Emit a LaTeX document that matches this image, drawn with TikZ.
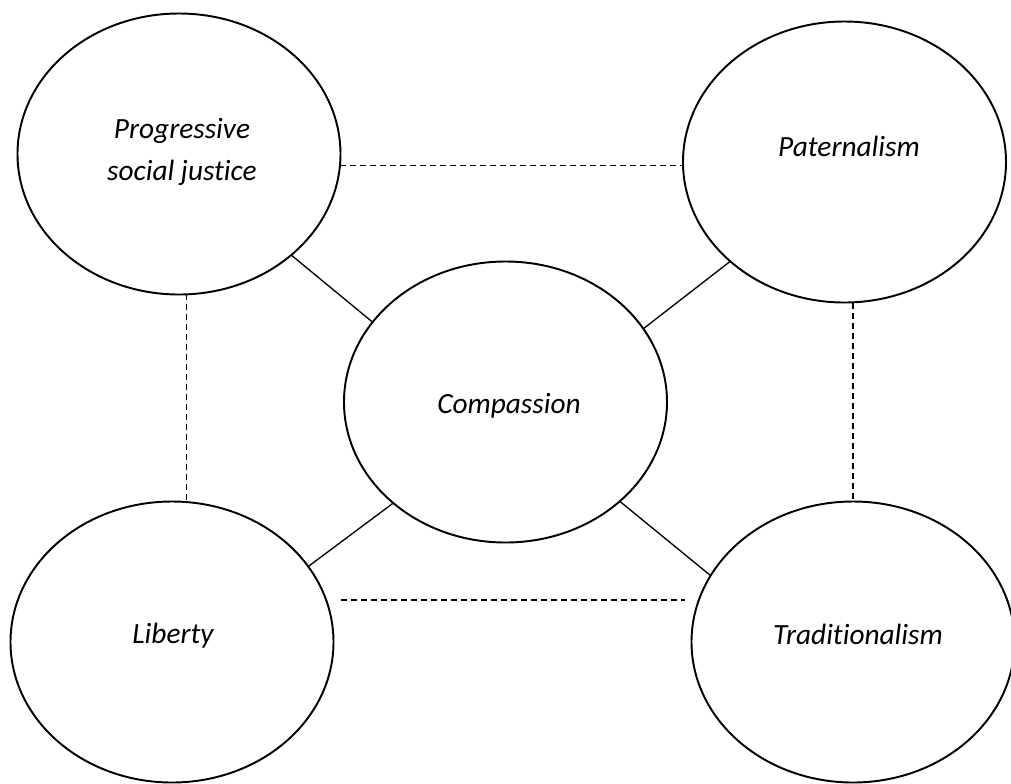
\documentclass[tikz,border=0pt]{standalone}
\usepackage{fontspec}
\setmainfont{Carlito}[Ligatures={NoCommon}]
\usetikzlibrary{shapes.geometric}
\begin{document}
\begin{tikzpicture}[x=0.75pt,y=-0.75pt,
  oval/.style={draw, ellipse, line width=1.45pt, minimum width=242.25pt, minimum height=210.75pt, inner sep=0pt, outer sep=0pt},
  txt/.style={font=\fontsize{22}{26}\selectfont\itshape, inner sep=0pt, anchor=base},
  solidlink/.style={line width=1pt},
  dashlink/.style={line width=1pt, dash pattern=on 4.5pt off 3pt}]
\useasboundingbox (0,0) rectangle (1011,783);
% ellipses
\node[oval] (psj) at (179,154) {};
\node[oval] (pat) at (844.5,162) {};
\node[oval] (com) at (505.5,402) {};
\node[oval] (lib) at (172,642) {};
\node[oval] (tra) at (853,642) {};
% labels
\node[txt] (t1) at (182,138) {Progressive};
\node[txt] (t2) at (182,180) {social justice};
\node[txt] (t3) at (849,156) {Paternalism};
\node[txt] (t4) at (509,413) {Compassion};
\node[txt] (t5) at (173,643) {Liberty};
\node[txt] (t6) at (858,644) {Traditionalism};
% solid connectors
\draw[solidlink] (psj.-42.6) -- (com.149);
\draw[solidlink] (pat.-139.6) -- (com.28.8);
\draw[solidlink] (lib.29) -- (com.-138.3);
\draw[solidlink] (tra.155.6) -- (com.-41.7);
% dashed connectors
\draw[dashlink] (psj.-4) -- (psj.-4 -| pat.west);
\draw[dashlink] (psj.-87.5) -- (psj.-87.5 |- lib.north);
\draw[dashlink] (tra.north |- pat.south) -- (tra.north);
\coordinate (b1) at (341,600);
\coordinate (b2) at (685,600);
\draw[dashlink] (b1) -- (b2);
\end{tikzpicture}
\end{document}
